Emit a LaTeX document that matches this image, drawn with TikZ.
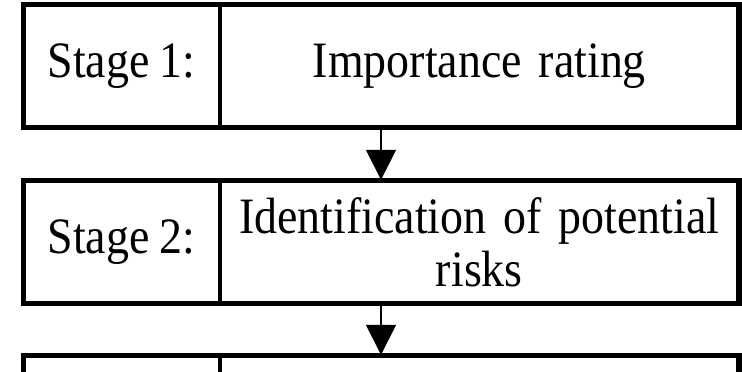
\documentclass[tikz,border=0pt]{standalone}
\usepackage{fontspec}
\setmainfont{Liberation Serif}[FakeStretch=0.9,WordSpace=0.9]
\usetikzlibrary{arrows.meta}

\begin{document}
\begin{tikzpicture}[x=1pt,y=-1pt,
	rowbox/.style={rectangle, draw, line width=3.5pt, minimum width=714pt, minimum height=121pt, inner sep=0pt},
	labelcell/.style={rectangle, draw, line width=2.8pt, minimum width=196pt, minimum height=121pt, inner sep=0pt, align=center},
	textcell/.style={rectangle, draw, line width=2.8pt, minimum width=518pt, minimum height=121pt, inner sep=0pt, align=center, text width=500pt},
	flow/.style={line width=2pt, -{Triangle[length=30pt,width=30pt]}},
	font=\fontsize{51}{53}\selectfont]
		\clip (0,0) rectangle (742,372);
		\node[rowbox] (row1) at (381,66) {};
		\node[labelcell,anchor=west] (lab1) at (row1.west) {Stage 1:};
		\node[textcell,anchor=east] (txt1) at (row1.east) {Importance rating};
		\node[rowbox] (row2) at (381,242) {};
		\node[labelcell,anchor=west] (lab2) at (row2.west) {Stage 2:};
		\node[textcell,anchor=east] (txt2) at (row2.east) {Identification of potential\\ risks};
		\node[rowbox] (row3) at (381,417) {};
		\node[labelcell,anchor=west] (lab3) at (row3.west) {};
		\node[textcell,anchor=east] (txt3) at (row3.east) {};
		\draw[flow] (row1.south) -- (row2.north);
		\draw[flow] (row2.south) -- (row3.north);
		\draw[rowbox] (row1.south west) rectangle (row1.north east);
		\draw[rowbox] (row2.south west) rectangle (row2.north east);
		\draw[rowbox] (row3.south west) rectangle (row3.north east);
	\end{tikzpicture}
\end{document}
